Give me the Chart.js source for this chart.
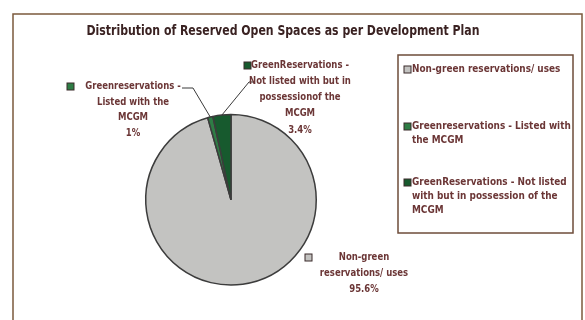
<!DOCTYPE html>
<html lang="en">
<head>
    <meta charset="UTF-8">
    <title>Distribution of Reserved Open Spaces</title>
    <script src="https://cdn.jsdelivr.net/npm/chart.js@4.4.1/dist/chart.umd.min.js"></script>
    <style>
        html, body { margin: 0; padding: 0; background: #ffffff; }
        #wrap { width: 585px; height: 320px; position: relative; }
    </style>
</head>
<body>
    <div id="wrap">
        <canvas id="mychart" width="585" height="320"></canvas>
    </div>
    <script>
        // data
        var chartTitle = "Distribution of Reserved Open Spaces as per Development Plan";
        var categories = [
            "Non-green reservations/ uses",
            "Greenreservations - Listed with the MCGM",
            "GreenReservations - Not listed with but in possession of the MCGM"
        ];
        var shares = [95.6, 1, 3.4];
        var shareLabels = ["95.6%", "1%", "3.4%"];
        var sliceColors = ["#c3c3c1", "#2e7d45", "#175a2e"];

        // label lines next to the pie (text only)
        var pieLabelLines = [
            ["Non-green", "reservations/ uses", shareLabels[0]],
            ["Greenreservations -", "Listed with the", "MCGM", shareLabels[1]],
            ["GreenReservations -", "Not listed with but in", "possessionof the", "MCGM", shareLabels[2]]
        ];
        // legend lines (wrapped as in the picture)
        var legendLines = [
            ["Non-green reservations/ uses"],
            ["Greenreservations - Listed with", "the MCGM"],
            ["GreenReservations - Not listed", "with but in possession of the", "MCGM"]
        ];

        var textColor = "#6b3636";
        var fontFam = "'DejaVu Sans Condensed', 'Liberation Sans', sans-serif";

        // condensed text, like the narrow bold font of the original
        function squeezeText(c, txt, x, y, k) {
            var w = c.measureText(txt).width;
            c.fillText(txt, x, y, w * k);
        }

        var decorPlugin = {
            id: "decor",
            beforeDraw: function (chart) {
                var c = chart.ctx;
                c.save();
                c.fillStyle = "#ffffff";
                c.fillRect(0, 0, chart.width, chart.height);
                // outer frame
                c.strokeStyle = "#7b5a3c";
                c.lineWidth = 1.5;
                c.strokeRect(13, 14, 569, 330);
                // title
                c.fillStyle = "#3a2222";
                c.font = "bold 14.5px " + fontFam;
                c.textAlign = "center";
                c.textBaseline = "middle";
                c.fillText(chartTitle, 283, 31, 393);
                c.restore();
            },
            afterDraw: function (chart) {
                var c = chart.ctx;
                var arcs = chart.getDatasetMeta(0).data;
                c.save();

                // leader lines from the two small slices
                c.strokeStyle = "#3a3a3a";
                c.lineWidth = 1;
                function edgePoint(a) {
                    var mid = (a.startAngle + a.endAngle) / 2;
                    return [a.x + Math.cos(mid) * a.outerRadius, a.y + Math.sin(mid) * a.outerRadius];
                }
                var p1 = edgePoint(arcs[1]);
                c.beginPath();
                c.moveTo(p1[0], p1[1]);
                c.lineTo(193, 88);
                c.lineTo(182, 88);
                c.stroke();
                var p2 = edgePoint(arcs[2]);
                c.beginPath();
                c.moveTo(p2[0], p2[1]);
                c.lineTo(249, 82);
                c.lineTo(255, 82);
                c.stroke();

                // labels around the pie: centre x, first line y, marker x, line step
                var pos = [[364, 257, 308, 16], [133, 86, 70, 15.7], [300, 65, 247, 16.2]];
                c.textAlign = "center";
                c.textBaseline = "middle";
                c.font = "bold 11px " + fontFam;
                for (var i = 0; i < pieLabelLines.length; i++) {
                    var x = pos[i][0], y = pos[i][1];
                    // small colour marker in front of the first line
                    c.fillStyle = sliceColors[i];
                    c.fillRect(pos[i][2] - 3, y - 3, 7, 7);
                    c.strokeStyle = "#3a2a2a";
                    c.strokeRect(pos[i][2] - 3, y - 3, 7, 7);
                    c.fillStyle = textColor;
                    for (var j = 0; j < pieLabelLines[i].length; j++) {
                        squeezeText(c, pieLabelLines[i][j], x, y + j * pos[i][3], 0.86);
                    }
                }

                // legend box
                c.strokeStyle = "#6e4c3a";
                c.lineWidth = 1.5;
                c.strokeRect(398, 55, 175, 178);
                var ly = [69, 126, 182];
                c.textAlign = "left";
                for (var k = 0; k < legendLines.length; k++) {
                    c.fillStyle = sliceColors[k];
                    c.fillRect(404, ly[k] - 3, 7, 7);
                    c.strokeStyle = "#3a2a2a";
                    c.lineWidth = 1;
                    c.strokeRect(404, ly[k] - 3, 7, 7);
                    c.fillStyle = textColor;
                    for (var m = 0; m < legendLines[k].length; m++) {
                        squeezeText(c, legendLines[k][m], 412, ly[k] + m * 14, 0.9);
                    }
                }
                c.restore();
            }
        };

        const ctx = document.getElementById('mychart');
        var mychart = new Chart(ctx, {
            type: 'pie',
            data: {
                labels: categories,
                datasets: [{
                    data: shares,
                    backgroundColor: sliceColors,
                    borderColor: "#3c3c3c",
                    borderWidth: 1.5
                }]
            },
            options: {
                responsive: false,
                animation: false,
                layout: {
                    padding: { left: 145, right: 268, top: 113.6, bottom: 34 }
                },
                plugins: {
                    legend: { display: false },
                    tooltip: { enabled: false },
                    title: { display: false }
                }
            },
            plugins: [decorPlugin]
        });
    </script>
</body>
</html>
